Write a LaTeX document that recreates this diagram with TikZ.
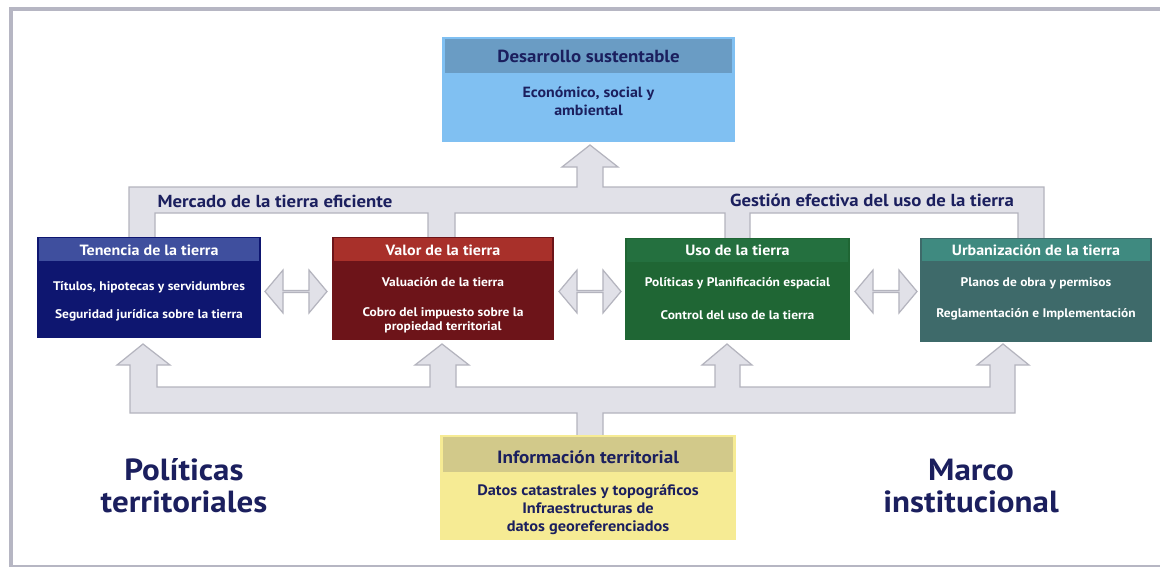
\documentclass[tikz,border=0pt]{standalone}
\usepackage{fontspec}
\setmainfont{PT Sans}[FakeStretch=1.08]
\usetikzlibrary{shapes.arrows}
\definecolor{navy}{HTML}{1B1F5E}
\definecolor{framegray}{HTML}{B6B6C3}
\definecolor{brfill}{HTML}{E1E1E8}
\definecolor{brline}{HTML}{B4B4BE}
\definecolor{desH}{HTML}{6A9CC4}
\definecolor{desB}{HTML}{80C0F2}
\definecolor{tenH}{HTML}{3F4F9E}
\definecolor{tenB}{HTML}{0E1670}
\definecolor{valH}{HTML}{A8302A}
\definecolor{valB}{HTML}{6D1419}
\definecolor{usoH}{HTML}{24703F}
\definecolor{usoB}{HTML}{1F6634}
\definecolor{urbH}{HTML}{3F8A80}
\definecolor{urbB}{HTML}{3E6A6A}
\definecolor{infH}{HTML}{D2C98A}
\definecolor{infB}{HTML}{F6EB94}
\tikzset{
  boxbody/.style={rectangle, inner sep=0pt, draw=none},
  boxhead/.style={rectangle, inner sep=0pt, draw=none},
  headtxt/.style={text=white, font=\bfseries\fontsize{8.45}{10}\selectfont, inner sep=0pt},
  bodytxt/.style={text=white, font=\bfseries\fontsize{7.1}{8.1}\selectfont, inner sep=0pt, align=center},
  bigtxt/.style={text=navy, font=\bfseries\fontsize{17.4}{18.3}\selectfont, inner sep=0pt, align=center},
  brtxt/.style={text=navy, font=\bfseries\fontsize{9.9}{11}\selectfont, inner sep=0pt},
  bracket/.style={fill=brfill, draw=brline, line width=0.7pt, line join=miter},
  dblarrow/.style={shape=double arrow, fill=brfill, draw=brline, line width=0.7pt,
    inner sep=0pt, minimum height=1.24cm, minimum width=0.86cm,
    double arrow head extend=0.28cm, double arrow tip angle=100}
}
\begin{document}
\begin{tikzpicture}[x=0.02cm,y=-0.02cm]
\useasboundingbox (0,0) rectangle (1160,568);
% frame
\fill[white] (0,0) rectangle (1160,568);
\fill[framegray] (9,7) rectangle (13,566);
\fill[framegray] (9,7) rectangle (1160,11);
\draw[framegray, line width=0.6pt] (9,566) -- (1160,566);

% top bracket
\path[bracket] (129,240) -- (129,187) -- (577,187) -- (577,167) -- (562,167) -- (590,145)
  -- (618,167) -- (603,167) -- (603,187) -- (1044,187) -- (1044,240) -- (1018,240)
  -- (1018,213) -- (750,213) -- (750,240) -- (725,240) -- (725,213) -- (455,213)
  -- (455,240) -- (428,240) -- (428,213) -- (155,213) -- (155,240) -- cycle;
% bottom bracket
\path[bracket] (577,438) -- (577,413) -- (130,413) -- (130,365) -- (117,365) -- (143,344)
  -- (170,365) -- (157,365) -- (157,387) -- (430,387) -- (430,365) -- (415,365)
  -- (442,344) -- (469,365) -- (456,365) -- (456,387) -- (715,387) -- (715,365)
  -- (702,365) -- (727,344) -- (752,365) -- (740,365) -- (740,387) -- (990,387)
  -- (990,365) -- (977,365) -- (1003,344) -- (1029,365) -- (1015,365) -- (1015,413)
  -- (603,413) -- (603,438) -- cycle;

\node[brtxt] (mercado) at (275,201) {Mercado de la tierra eficiente};
\node[brtxt] (gestion) at (872,200) {Gestión efectiva del uso de la tierra};

% Desarrollo sustentable
\node[boxbody, fill=desB, minimum width=5.86cm, minimum height=2.1cm] (des) at (588.5,89.5) {};
\node[boxhead, fill=desH, minimum width=5.74cm, minimum height=0.68cm] (desh) at (588.5,56) {};
\node[headtxt, text=navy, font=\bfseries\fontsize{9.95}{11}\selectfont] (desht) at (588.5,56) {Desarrollo sustentable};
\node[bodytxt, text=navy, font=\bfseries\fontsize{8.4}{10.2}\selectfont] (desbt) at (588.5,101) {Económico, social y\\ambiental};

% Tenencia
\node[boxbody, fill=tenB, minimum width=4.48cm, minimum height=2.02cm] (ten) at (149,287.5) {};
\node[boxhead, fill=tenH, minimum width=4.40cm, minimum height=0.46cm] (tenh) at (149,249.5) {};
\node[headtxt] (tenht) at (149,250) {Tenencia de la tierra};
\node[bodytxt] (ten1) at (149,287) {Títulos, hipotecas y servidumbres};
\node[bodytxt] (ten2) at (149,315) {Seguridad jurídica sobre la tierra};

% Valor
\node[boxbody, fill=valB, minimum width=4.44cm, minimum height=2.06cm] (val) at (443,288.5) {};
\node[boxhead, fill=valH, minimum width=4.36cm, minimum height=0.46cm] (valh) at (443,249.5) {};
\node[headtxt] (valht) at (443,250) {Valor de la tierra};
\node[bodytxt] (val1) at (443,282) {Valuación de la tierra};
\node[bodytxt] (val2) at (443,320) {Cobro del impuesto sobre la\\propiedad territorial};

% Uso
\node[boxbody, fill=usoB, minimum width=4.5cm, minimum height=2.04cm] (uso) at (737.5,289) {};
\node[boxhead, fill=usoH, minimum width=4.42cm, minimum height=0.46cm] (usoh) at (737.5,250) {};
\node[headtxt] (usoht) at (737.5,250) {Uso de la tierra};
\node[bodytxt] (uso1) at (737.5,283) {Políticas y Planificación espacial};
\node[bodytxt] (uso2) at (737.5,315) {Control del uso de la tierra};

% Urbanizacion
\node[boxbody, fill=urbB, minimum width=4.64cm, minimum height=2.08cm] (urb) at (1036,290) {};
\node[boxhead, fill=urbH, minimum width=4.56cm, minimum height=0.44cm] (urbh) at (1036,250) {};
\node[headtxt] (urbht) at (1036,250) {Urbanización de la tierra};
\node[bodytxt] (urb1) at (1036,283) {Planos de obra y permisos};
\node[bodytxt] (urb2) at (1036,314) {Reglamentación e Implementación};

% double arrows
\node[dblarrow] (a1) at (296,291.5) {};
\node[dblarrow] (a2) at (590,291.5) {};
\node[dblarrow] (a3) at (886,291.5) {};

% Informacion territorial
\node[boxbody, fill=infB, minimum width=5.92cm, minimum height=2.1cm] (inf) at (588,487.5) {};
\node[boxhead, fill=infH, minimum width=5.8cm, minimum height=0.7cm] (infh) at (588,454.5) {};
\node[headtxt, text=navy, font=\bfseries\fontsize{10.1}{11}\selectfont] (infht) at (588,457) {Información territorial};
\node[bodytxt, text=navy, font=\bfseries\fontsize{8.6}{10.3}\selectfont] (infbt) at (588,510) {Datos catastrales y topográficos\\Infraestructuras de\\datos georeferenciados};

% big side texts
\node[bigtxt] (pol) at (184,486) {Políticas\\territoriales};
\node[bigtxt] (marco) at (971,486) {Marco\\institucional};
\end{tikzpicture}
\end{document}
